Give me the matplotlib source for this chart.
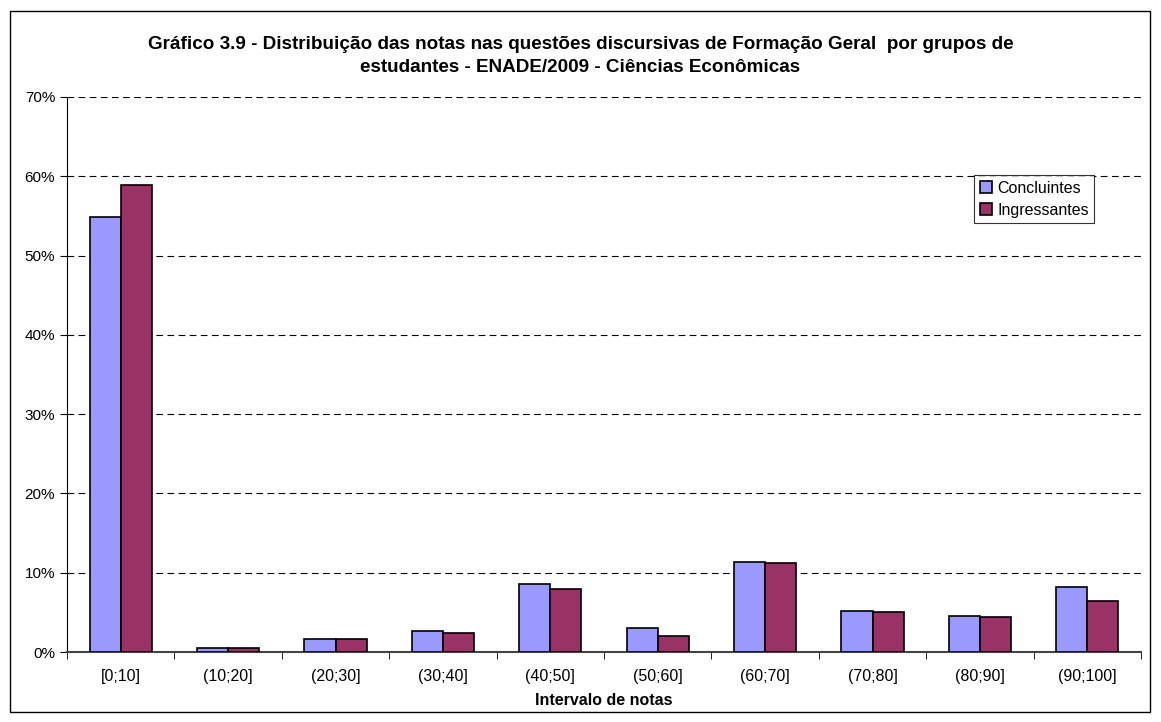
import matplotlib.pyplot as plt
import numpy as np
from matplotlib.patches import Rectangle

plt.rcParams['font.family'] = ['Liberation Sans', 'DejaVu Sans']

# Data
intervalos = ['[0;10]', '(10;20]', '(20;30]', '(30;40]', '(40;50]',
              '(50;60]', '(60;70]', '(70;80]', '(80;90]', '(90;100]']
concluintes = [54.9, 0.47, 1.6, 2.7, 8.6, 3.0, 11.35, 5.15, 4.6, 8.15]
ingressantes = [58.9, 0.55, 1.68, 2.35, 7.9, 2.05, 11.2, 5.0, 4.45, 6.45]

fig = plt.figure(figsize=(11.61, 7.22), dpi=100)
ax = fig.add_axes([67/1161, 1 - 652/722, (1141 - 67)/1161, (652 - 97)/722])

# outer chart border
fig.patches.append(Rectangle((10/1161, 10/722), 1140/1161, 701/722,
                             transform=fig.transFigure, fill=False,
                             edgecolor='black', linewidth=1))

x = np.arange(len(intervalos))
w = 0.29
ax.bar(x - w/2, concluintes, w, color='#9999FF', edgecolor='black', linewidth=1.2,
       label='Concluintes', zorder=3)
ax.bar(x + w/2, ingressantes, w, color='#993366', edgecolor='black', linewidth=1.2,
       label='Ingressantes', zorder=3)

ax.set_xlim(-0.5, len(intervalos) - 0.5)
ax.set_ylim(0, 70)
ax.set_yticks(np.arange(0, 71, 10))
ax.set_yticklabels([f'{v}%' for v in range(0, 71, 10)], fontsize=11)
for v in range(10, 71, 10):
    ax.axhline(v, color='black', linestyle=(0, (6, 4)), linewidth=0.8, zorder=1)

ax.set_xticks(x)
ax.set_xticklabels(intervalos, fontsize=11.5)
ax.set_xticks(np.arange(-0.5, len(intervalos), 1), minor=True)
ax.tick_params(axis='x', which='major', length=0, pad=12)
ax.tick_params(axis='x', which='minor', length=5, direction='out')
ax.tick_params(axis='y', length=5, direction='out')

for s in ['top', 'right']:
    ax.spines[s].set_visible(False)
ax.spines['left'].set_color('black')
ax.spines['bottom'].set_color('#444444')
ax.spines['bottom'].set_linewidth(1.5)

ax.set_xlabel('Intervalo de notas', fontsize=11.5, fontweight='bold', labelpad=7)

fig.text(0.5, 1 - 56/722,
         'Gráfico 3.9 - Distribuição das notas nas questões discursivas de Formação Geral  por grupos de\n'
         'estudantes - ENADE/2009 - Ciências Econômicas',
         ha='center', va='center', fontsize=13.6, fontweight='bold', linespacing=1.4)

leg = ax.legend(loc='upper left', bbox_to_anchor=((974 - 67)/1074, (652 - 175)/555),
                fontsize=11.5, frameon=True, fancybox=False, edgecolor='black',
                handlelength=0.8, handleheight=0.8, handletextpad=0.3,
                borderpad=0.35, labelspacing=0.45, borderaxespad=0)
leg.get_frame().set_linewidth(0.8)

plt.savefig('out.png', dpi=100)
